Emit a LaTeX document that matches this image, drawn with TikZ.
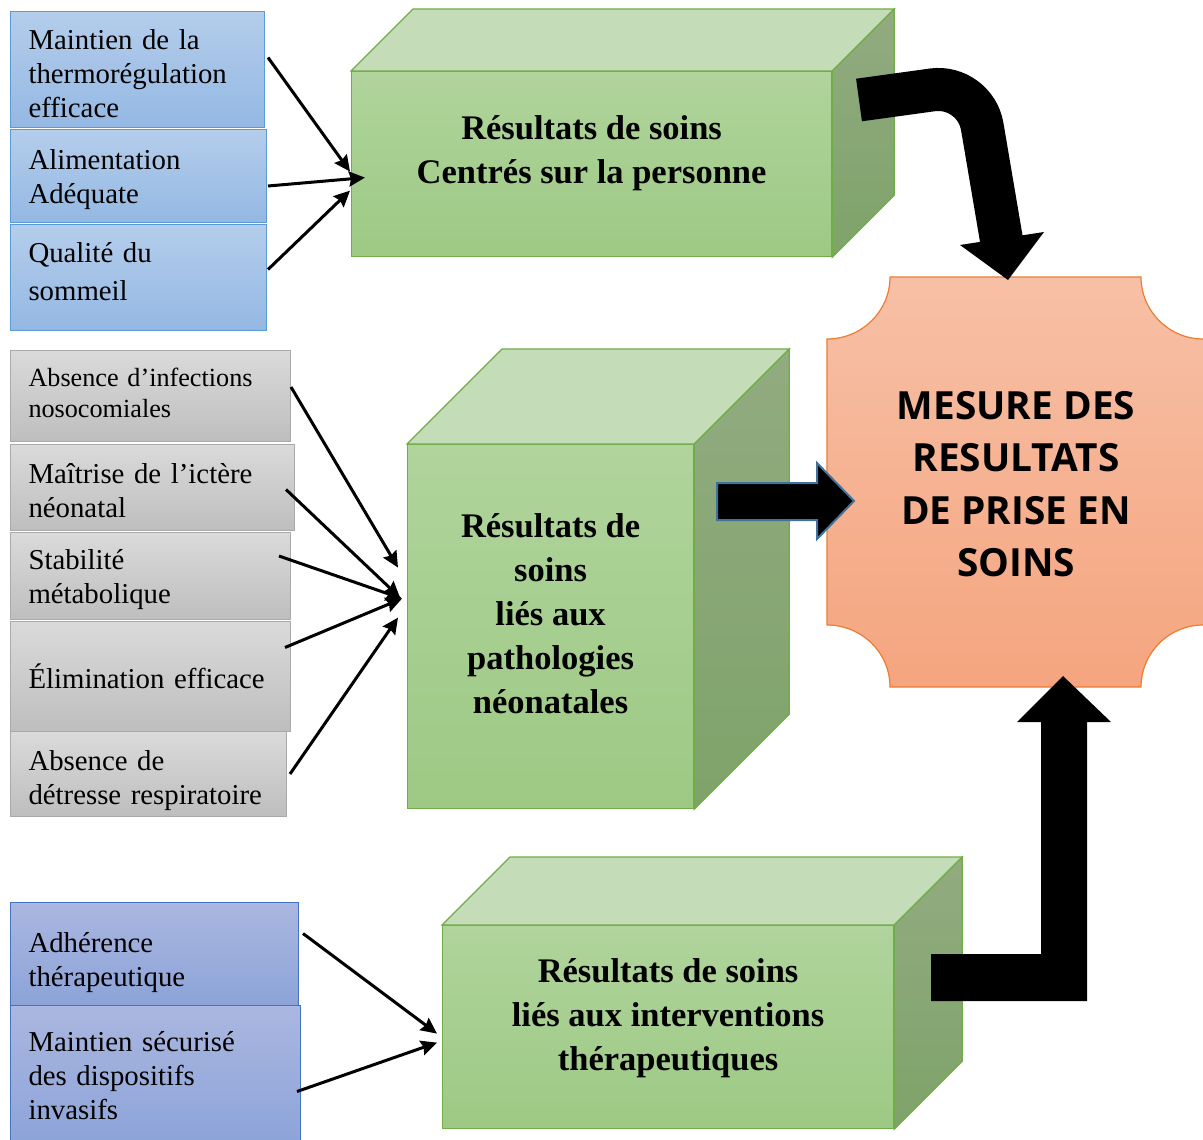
\documentclass[tikz,border=0pt]{standalone}
\usepackage{fontspec}
\setmainfont{Liberation Serif}
\newfontfamily\mesfont{Open Sans}
\usetikzlibrary{arrows.meta}

\definecolor{blueA}{RGB}{180,205,235}
\definecolor{blueB}{RGB}{148,184,227}
\definecolor{blueline}{RGB}{91,155,213}
\definecolor{grayA}{RGB}{218,218,218}
\definecolor{grayB}{RGB}{190,190,190}
\definecolor{grayline}{RGB}{170,170,170}
\definecolor{violA}{RGB}{170,183,224}
\definecolor{violB}{RGB}{140,163,216}
\definecolor{violline}{RGB}{68,114,196}
\definecolor{frontA}{RGB}{176,212,156}
\definecolor{frontB}{RGB}{157,201,132}
\definecolor{topgreen}{RGB}{196,221,184}
\definecolor{sideA}{RGB}{146,171,128}
\definecolor{sideB}{RGB}{126,163,106}
\definecolor{greenline}{RGB}{112,173,71}
\definecolor{orangeA}{RGB}{247,192,166}
\definecolor{orangeB}{RGB}{245,165,127}
\definecolor{orangeline}{RGB}{237,125,49}
\definecolor{arrowline}{RGB}{65,113,156}

\begin{document}
\begin{tikzpicture}[x=0.5pt, y=-0.5pt,
    box/.style={anchor=north west, inner xsep=9pt, inner ysep=0pt, align=left,
        line width=0.5pt, font=\fontsize{14.4pt}{17pt}\selectfont},
    bluebox/.style={box, draw=blueline, top color=blueA, bottom color=blueB},
    graybox/.style={box, draw=grayline, top color=grayA, bottom color=grayB},
    violbox/.style={box, draw=violline, top color=violA, bottom color=violB},
    front/.style={anchor=north west, inner sep=0pt, draw=greenline, line width=0.6pt,
        top color=frontA, bottom color=frontB},
    topside/.style={draw=greenline, line width=0.6pt, fill=topgreen},
    rightside/.style={draw=greenline, line width=0.6pt, top color=sideA, bottom color=sideB},
    cubetxt/.style={align=center, font=\bfseries\fontsize{17.25pt}{22pt}\selectfont},
    link/.style={line width=1.5pt, -{Stealth[length=8pt, width=7.5pt, inset=1pt]}}]
    \useasboundingbox (0,0) rectangle (1203,1139);

    % left column
    \node[bluebox, text width=109pt, minimum height=58pt] (b1) at (10,11)
        {\rule{0pt}{14pt}Maintien de la\\thermorégulation\\efficace};
    \node[bluebox, text width=110pt, minimum height=46.5pt] (b2) at (10,129)
        {\rule{0pt}{14pt}Alimentation\\Adéquate};
    \node[bluebox, text width=110pt, minimum height=53pt] (b3) at (10,224)
        {Qualité du\\[2pt]sommeil\\[-11pt]\mbox{}};
    \node[graybox, text width=122pt, minimum height=45.5pt,
        font=\fontsize{13.1pt}{15.5pt}\selectfont] (g1) at (10,350)
        {Absence d’infections\\nosocomiales\\[-12.5pt]\mbox{}};
    \node[graybox, text width=124pt, minimum height=43pt] (g2) at (10,444)
        {\rule{0pt}{13.3pt}Maîtrise de l’ictère\\néonatal};
    \node[graybox, text width=122pt, minimum height=43.5pt] (g3) at (10,532)
        {\rule{0pt}{14pt}Stabilité\\métabolique};
    \node[graybox, text width=122pt, minimum height=55pt] (g4) at (10,621)
        {Élimination efficace};
    \node[graybox, text width=120pt, minimum height=42.5pt] (g5) at (10,731)
        {\rule{0pt}{17pt}Absence de\\détresse respiratoire};
    \node[violbox, text width=126pt, minimum height=51.5pt] (c1) at (10,902)
        {\rule{0pt}{19pt}Adhérence\\thérapeutique};
    \node[violbox, text width=127pt, minimum height=70pt] (c2) at (10,1005)
        {Maintien sécurisé\\des dispositifs\\invasifs};

    % boxes
    \node[front, minimum width=240pt, minimum height=92.5pt] (r1) at (351,71) {};
    \path[topside] (r1.north west) -- ([shift={(62,-62)}]r1.north west)
        -- ([shift={(62,-62)}]r1.north east) -- (r1.north east) -- cycle;
    \path[rightside] (r1.north east) -- ([shift={(62,-62)}]r1.north east)
        -- ([shift={(62,-62)}]r1.south east) -- (r1.south east) -- cycle;
    \node[cubetxt] (t1) at ([yshift=5.5pt]r1.center)
        {Résultats de soins\\Centrés sur la personne};

    \node[front, minimum width=143pt, minimum height=182pt] (r2) at (407,444) {};
    \path[topside] (r2.north west) -- ([shift={(95,-95)}]r2.north west)
        -- ([shift={(95,-95)}]r2.north east) -- (r2.north east) -- cycle;
    \path[rightside] (r2.north east) -- ([shift={(95,-95)}]r2.north east)
        -- ([shift={(95,-95)}]r2.south east) -- (r2.south east) -- cycle;
    \node[cubetxt] (t2) at ([yshift=6.5pt]r2.center)
        {Résultats de\\soins\\liés aux\\pathologies\\néonatales};

    \node[front, minimum width=225.5pt, minimum height=101.5pt] (r3) at (442,925) {};
    \path[topside] (r3.north west) -- ([shift={(68,-68)}]r3.north west)
        -- ([shift={(68,-68)}]r3.north east) -- (r3.north east) -- cycle;
    \path[rightside] (r3.north east) -- ([shift={(68,-68)}]r3.north east)
        -- ([shift={(68,-68)}]r3.south east) -- (r3.south east) -- cycle;
    \node[cubetxt] (t3) at ([yshift=4.5pt]r3.center)
        {Résultats de soins\\liés aux interventions\\thérapeutiques};

    % measure
    \path[top color=orangeA, bottom color=orangeB]
        (890,277) -- (1141,277) .. controls (1141,311) and (1169,339) .. (1203,339)
        -- (1203,625) .. controls (1169,625) and (1141,653) .. (1141,687)
        -- (890,687) .. controls (890,653) and (862,625) .. (827,625)
        -- (827,339) .. controls (862,339) and (890,311) .. (890,277) -- cycle;
    \draw[orangeline, line width=0.6pt]
        (1203,339) .. controls (1169,339) and (1141,311) .. (1141,277) -- (890,277)
        .. controls (890,311) and (862,339) .. (827,339) -- (827,625)
        .. controls (862,625) and (890,653) .. (890,687) -- (1141,687)
        .. controls (1141,653) and (1169,625) .. (1203,625);
    \node[align=center, font=\mesfont\bfseries\fontsize{19.4pt}{26.2pt}\selectfont] (mes)
        at (1016,484) {MESURE DES\\RESULTATS\\DE PRISE EN\\SOINS};

    % block arrows
    \draw[line width=21.5pt, rounded corners=21.5pt] (859,100) -- (975,84) -- (1002,243);
    \fill (960,245) -- (1044,232) -- (1008,280) -- cycle;
    \filldraw[draw=arrowline, line width=1pt] (717,483) -- (817,483) -- (817,463)
        -- (854,501) -- (817,539) -- (817,520) -- (717,520) -- cycle;
    \fill (931,954) -- (1041,954) -- (1041,722) -- (1017,722) -- (1063,676)
        -- (1111,722) -- (1087,722) -- (1087,1001) -- (931,1001) -- cycle;

    % thin arrows
    \draw[link] ([shift={(3,-12)}]b1.east) -- ([shift={(-1,7.5)}]r1.west);
    \draw[link] ([shift={(1,10)}]b2.east) -- ([shift={(14,13.5)}]r1.west);
    \draw[link] ([shift={(1,-8)}]b3.east) -- ([shift={(-1,26.5)}]r1.west);
    \draw[link] ([shift={(0,-9)}]g1.east) -- ([shift={(-9,-59)}]r2.west);
    \draw[link] ([shift={(-9,2)}]g2.east) -- ([shift={(-7,-29)}]r2.west);
    \draw[link] ([shift={(-12,-20)}]g3.east) -- ([shift={(-5,-28)}]r2.west);
    \draw[link] ([shift={(-6,-29)}]g4.east) -- ([shift={(-5,-28)}]r2.west);
    \draw[link] ([shift={(3,0)}]g5.east) -- ([shift={(-9,-9)}]r2.west);
    \draw[link] ([shift={(4,-20.5)}]c1.east) -- ([shift={(-5,6.5)}]r3.west);
    \draw[link] ([shift={(-4,16)}]c2.east) -- ([shift={(-5,15.5)}]r3.west);
\end{tikzpicture}
\end{document}
